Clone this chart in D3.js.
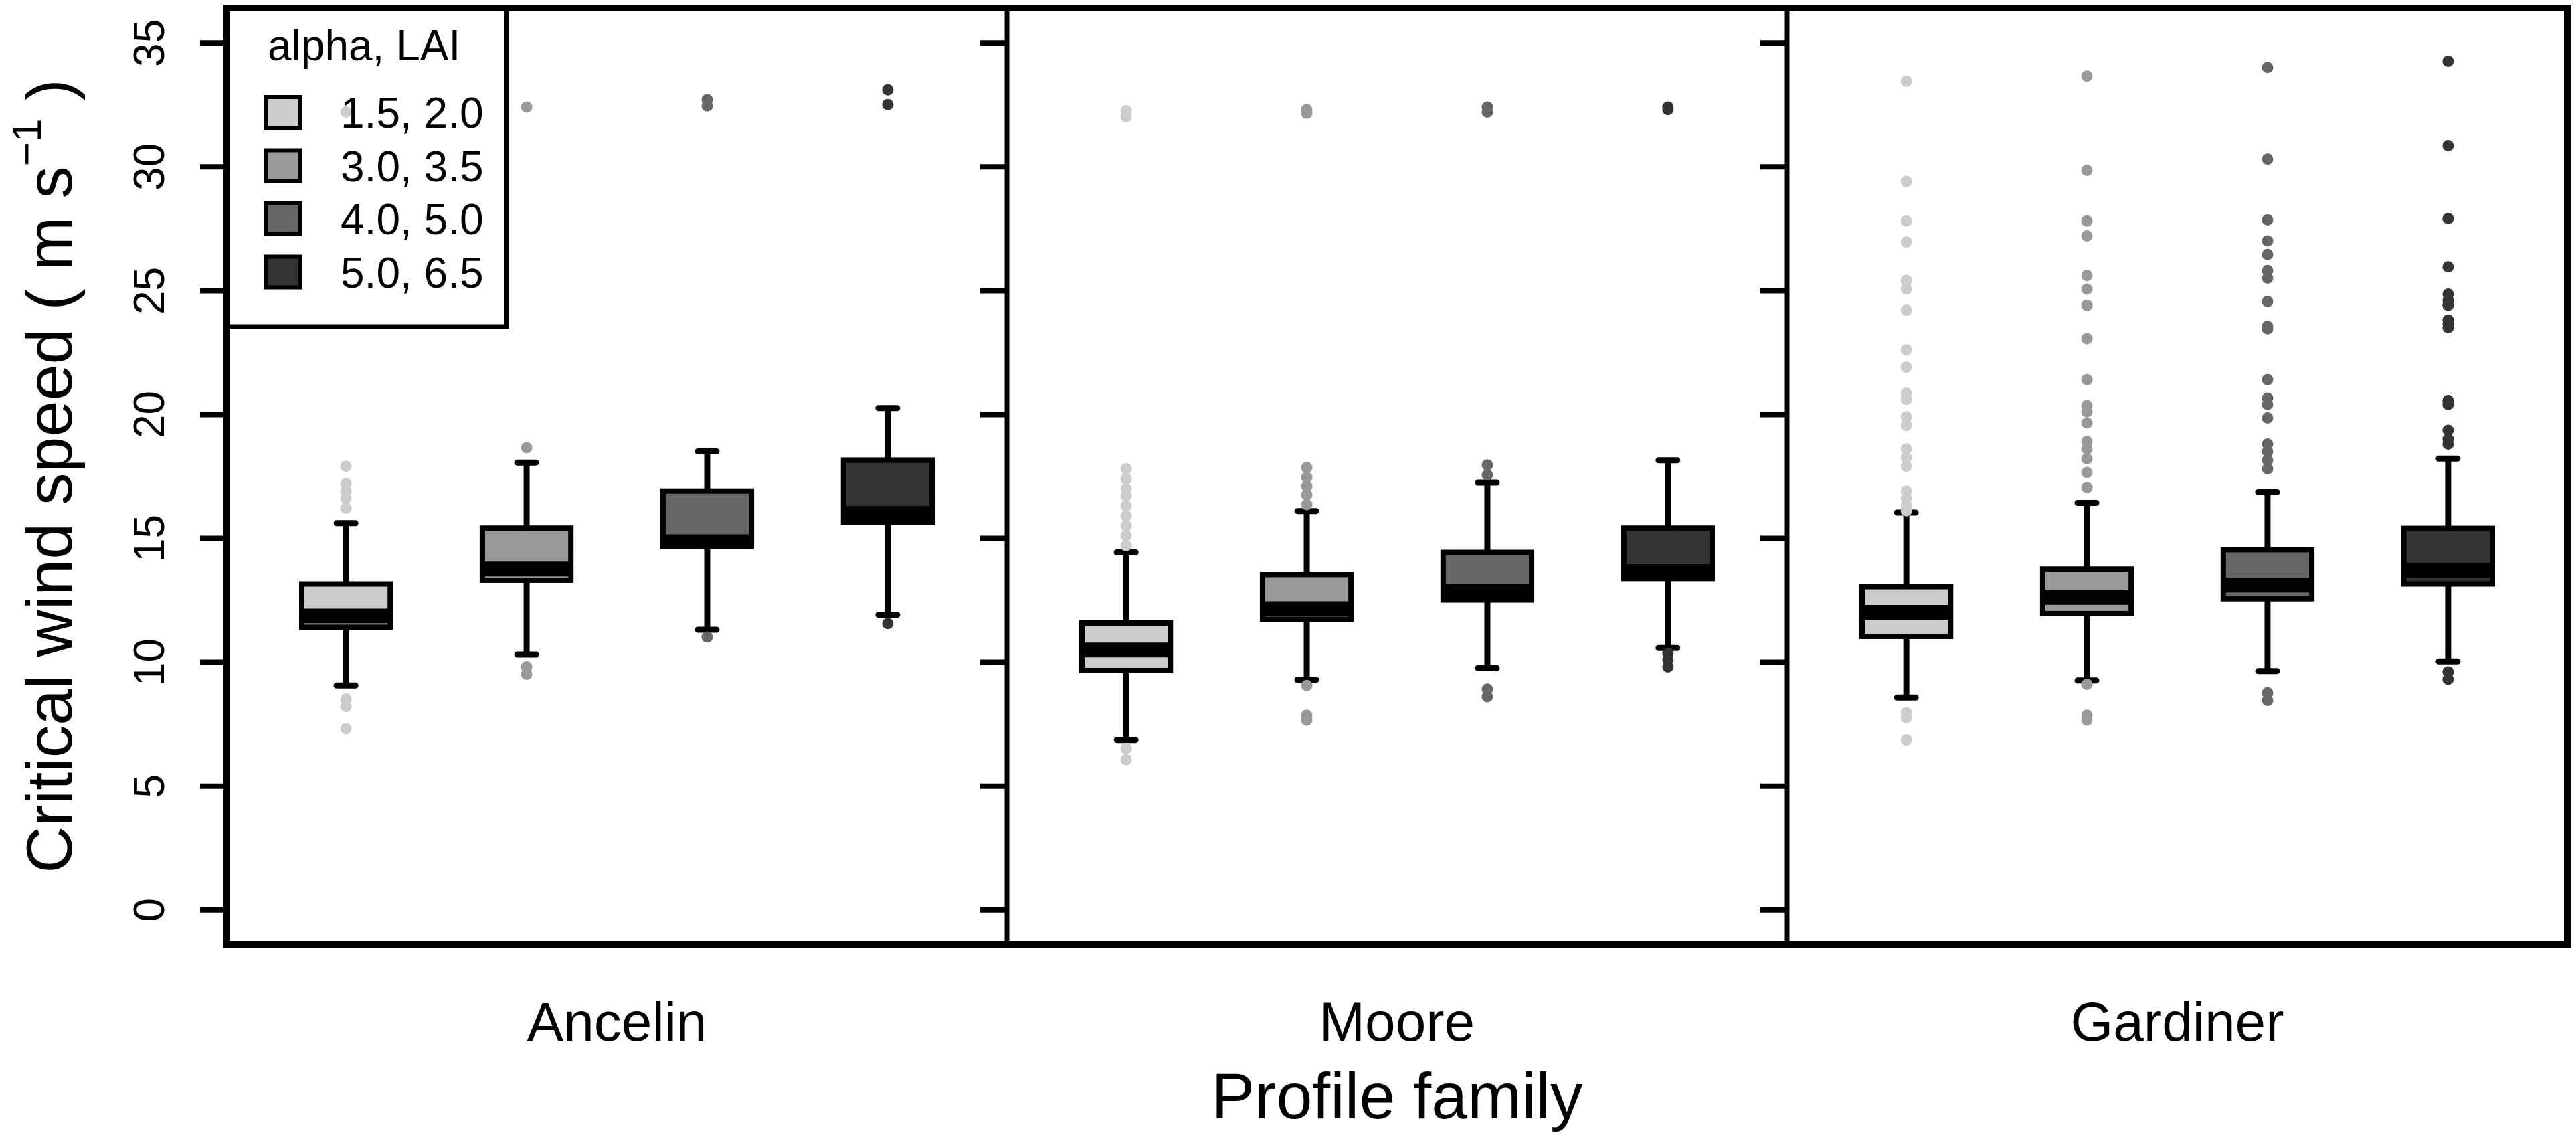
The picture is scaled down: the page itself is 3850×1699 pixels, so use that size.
<!DOCTYPE html>
<html>
<head>
<meta charset="utf-8">
<script src="https://cdn.jsdelivr.net/npm/d3@7/dist/d3.min.js"></script>
<style>
  html, body { margin: 0; padding: 0; background: #ffffff; }
  svg { display: block; font-family: "Liberation Sans", Arial, sans-serif; }
</style>
</head>
<body>
<svg id="chart" width="3850" height="1699"></svg>
<script>
// ---------------- data ----------------
const families = ["Ancelin", "Moore", "Gardiner"];
const groups = ["1.5, 2.0", "3.0, 3.5", "4.0, 5.0", "5.0, 6.5"];
const yTicks = [0, 5, 10, 15, 20, 25, 30, 35];

// box statistics, rows = family, columns = group
const whiskerLow  = [[9.05, 10.3, 11.3, 11.9], [6.85, 9.28, 9.75, 10.56], [8.56, 9.25, 9.63, 10.02]];
const quartile1   = [[11.4, 13.3, 14.65, 15.65], [9.65, 11.72, 12.5, 13.37], [11.03, 11.95, 12.55, 13.15]];
const median      = [[11.85, 13.75, 14.85, 16.0], [10.48, 12.15, 12.85, 13.65], [12.0, 12.6, 13.1, 13.7]];
const quartile3   = [[13.15, 15.4, 16.9, 18.15], [11.57, 13.53, 14.42, 15.4], [13.04, 13.75, 14.53, 15.39]];
const whiskerHigh = [[15.6, 18.05, 18.5, 20.25], [14.42, 16.09, 17.24, 18.14], [16.03, 16.42, 16.85, 18.21]];

const outliersAncelin = [
  [7.3, 8.2, 8.5, 16.2, 16.6, 16.9, 17.2, 17.9, 32.2],
  [9.5, 9.8, 18.65, 32.4],
  [11.0, 32.45, 32.7],
  [11.55, 32.5, 33.1]
];
const outliersMoore = [
  [6.05, 6.5, 14.7, 15.1, 15.5, 15.9, 16.3, 16.7, 17.0, 17.4, 17.8, 32.0, 32.25],
  [7.65, 7.85, 9.05, 16.35, 16.75, 17.1, 17.45, 17.85, 32.15, 32.3],
  [8.6, 8.9, 17.55, 17.95, 32.2, 32.4],
  [9.8, 10.1, 10.35, 32.3, 32.4]
];
const outliersGardiner = [
  [6.85, 7.75, 7.95, 16.1, 16.3, 16.6, 16.9, 17.9, 18.25, 18.6, 19.55, 19.9, 20.6, 20.85, 21.9, 22.6, 24.2, 25.05, 25.4, 26.95, 27.8, 29.4, 33.45],
  [7.65, 7.85, 9.1, 17.05, 17.65, 18.2, 18.6, 18.9, 19.65, 20.1, 20.35, 21.4, 23.05, 24.4, 25.05, 25.6, 27.2, 27.8, 29.85, 33.65],
  [8.45, 8.75, 17.8, 18.15, 18.5, 18.8, 19.85, 20.4, 20.65, 21.4, 23.45, 23.55, 24.55, 25.5, 25.8, 26.45, 27.0, 27.85, 30.3, 34.0],
  [9.3, 9.6, 18.8, 19.0, 19.35, 20.4, 20.55, 23.5, 23.65, 23.8, 24.4, 24.6, 24.85, 25.95, 27.9, 30.85, 34.25]
];
const outliers = [outliersAncelin, outliersMoore, outliersGardiner];

// ---------------- style ----------------
const fills = ["#cccccc", "#999999", "#666666", "#333333"];
const font = "'Liberation Sans', Arial, sans-serif";

const svg = d3.select("#chart");
const plotLeft = 339, plotRight = 3837, plotTop = 12, plotBottom = 1411;

const panel = d3.scaleBand().domain(families).range([plotLeft, plotRight]).padding(0);
const y = d3.scaleLinear().domain([-1.4, 36.4]).range([plotBottom, plotTop]);
const boxHalf = 0.245;   // in group units

families.forEach((fam, fi) => {
  const x0 = panel(fam), x1 = x0 + panel.bandwidth();
  const x = d3.scaleLinear().domain([0.34, 4.66]).range([x0, x1]);
  const g = svg.append("g");

  groups.forEach((grp, gi) => {
    const cx = x(gi + 1);
    const bl = x(gi + 1 - boxHalf), br = x(gi + 1 + boxHalf);
    // whiskers
    g.append("line").attr("x1", cx).attr("x2", cx)
      .attr("y1", y(quartile3[fi][gi])).attr("y2", y(whiskerHigh[fi][gi]))
      .attr("stroke", "#000").attr("stroke-width", 9);
    g.append("line").attr("x1", cx).attr("x2", cx)
      .attr("y1", y(quartile1[fi][gi])).attr("y2", y(whiskerLow[fi][gi]))
      .attr("stroke", "#000").attr("stroke-width", 9);
    // staples
    [whiskerHigh[fi][gi], whiskerLow[fi][gi]].forEach(v => {
      g.append("line").attr("x1", cx - 14).attr("x2", cx + 14)
        .attr("y1", y(v)).attr("y2", y(v))
        .attr("stroke", "#000").attr("stroke-width", 9).attr("stroke-linecap", "round");
    });
    // box
    g.append("rect")
      .attr("x", bl).attr("width", br - bl)
      .attr("y", y(quartile3[fi][gi]))
      .attr("height", y(quartile1[fi][gi]) - y(quartile3[fi][gi]))
      .attr("fill", fills[gi]).attr("stroke", "#000").attr("stroke-width", 8);
    // median
    g.append("line").attr("x1", bl).attr("x2", br)
      .attr("y1", y(median[fi][gi])).attr("y2", y(median[fi][gi]))
      .attr("stroke", "#000").attr("stroke-width", 22);
    // outliers
    g.selectAll(null).data(outliers[fi][gi]).enter().append("circle")
      .attr("cx", cx).attr("cy", d => y(d)).attr("r", 8.5)
      .attr("fill", fills[gi]);
  });

  // left axis ticks for each panel
  const axis = d3.axisLeft(y).tickValues(yTicks).tickSize(40).tickPadding(0)
    .tickFormat(fi === 0 ? d3.format("d") : () => "");
  const ag = svg.append("g").attr("transform", `translate(${x0},0)`).call(axis);
  ag.select(".domain").remove();
  ag.selectAll(".tick line").attr("stroke", "#000").attr("stroke-width", 8);
  ag.selectAll(".tick text")
    .attr("transform", "rotate(-90)")
    .attr("x", 0).attr("y", -94).attr("dy", 0)
    .attr("text-anchor", "middle")
    .attr("font-family", font).attr("font-size", 64).attr("fill", "#000");

  // category label
  svg.append("text").attr("x", (x0 + x1) / 2).attr("y", 1555)
    .attr("text-anchor", "middle").attr("font-family", font).attr("font-size", 82)
    .text(fam);
});

// frame and dividers
svg.append("rect").attr("x", plotLeft).attr("y", plotTop)
  .attr("width", plotRight - plotLeft).attr("height", plotBottom - plotTop)
  .attr("fill", "none").attr("stroke", "#000").attr("stroke-width", 10);
families.slice(1).forEach(f => {
  svg.append("line").attr("x1", panel(f)).attr("x2", panel(f))
    .attr("y1", plotTop).attr("y2", plotBottom)
    .attr("stroke", "#000").attr("stroke-width", 7);
});

// legend
const lg = svg.append("g");
lg.append("rect").attr("x", plotLeft).attr("y", plotTop).attr("width", 418).attr("height", 476)
  .attr("fill", "none").attr("stroke", "#000").attr("stroke-width", 7);
lg.append("text").attr("x", 400).attr("y", 90).attr("font-family", font).attr("font-size", 64)
  .text("alpha, LAI");
groups.forEach((grp, gi) => {
  const cy = 168 + gi * 79.5;
  lg.append("rect").attr("x", 397).attr("y", cy - 23).attr("width", 52).attr("height", 46)
    .attr("fill", fills[gi]).attr("stroke", "#000").attr("stroke-width", 6);
  lg.append("text").attr("x", 509).attr("y", cy + 23).attr("font-family", font).attr("font-size", 64)
    .text(grp);
});

// axis titles
const yt = svg.append("text")
  .attr("transform", `translate(107,${(plotTop + plotBottom) / 2}) rotate(-90)`)
  .attr("text-anchor", "middle").attr("font-family", font).attr("font-size", 97);
yt.append("tspan").text("Critical wind speed ( m s");
yt.append("tspan").attr("font-size", 62).attr("dy", -46).text("\u22121");
yt.append("tspan").attr("dy", 46).text(" )");

svg.append("text").attr("x", (plotLeft + plotRight) / 2).attr("y", 1671)
  .attr("text-anchor", "middle").attr("font-family", font).attr("font-size", 97)
  .text("Profile family");
</script>
</body>
</html>
